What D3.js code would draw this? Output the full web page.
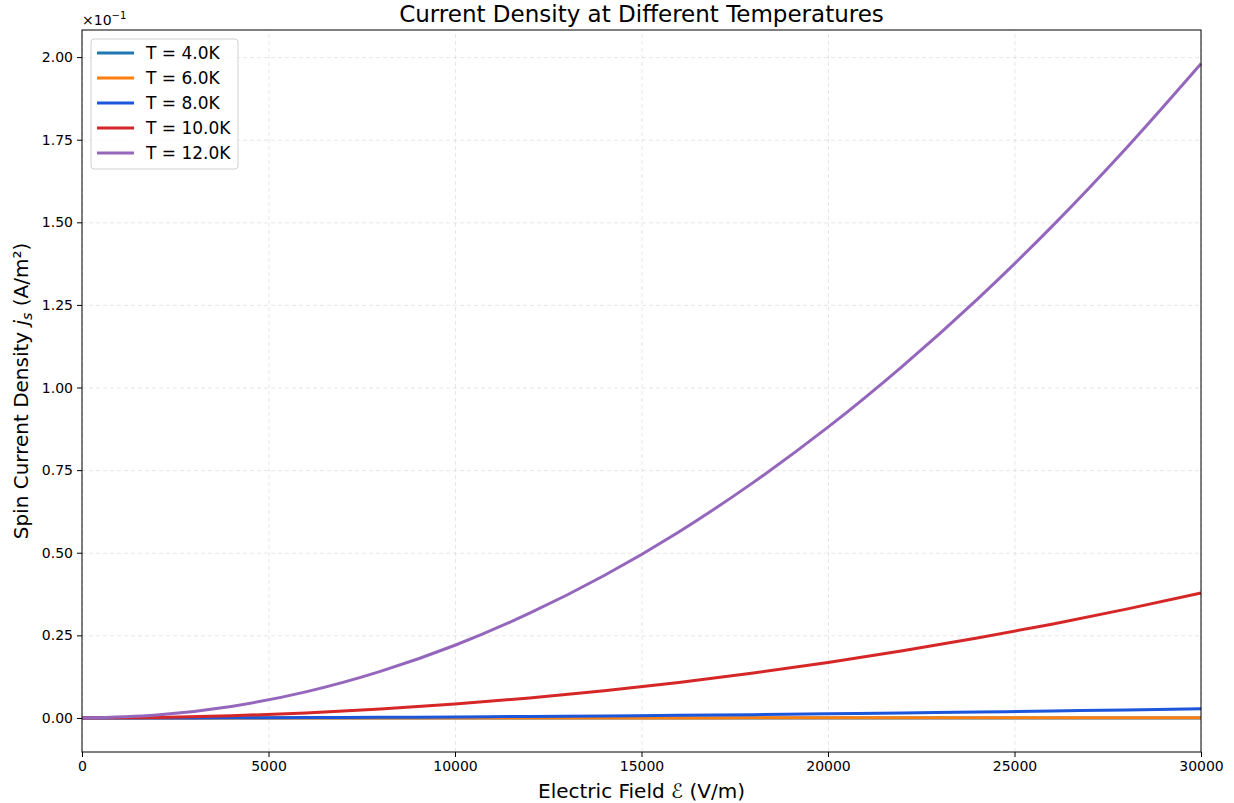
<!DOCTYPE html>
<html>
<head>
<meta charset="utf-8">
<script src="https://cdn.jsdelivr.net/npm/d3@7"></script>
<style>
  body { margin: 0; background: #fff; }
  text { font-family: "DejaVu Sans", sans-serif; fill: #000; }
  .grid line { stroke: #b0b0b0; stroke-opacity: 0.3; stroke-dasharray: 4,3; }
  .grid .domain { display: none; }
</style>
</head>
<body>
<div id="chart"></div>
<script>
// electric field samples (V/m)
var fields = [0, 2000, 4000, 6000, 8000, 10000, 12000, 14000, 16000, 18000, 20000, 22000, 24000, 26000, 28000, 30000];
// spin current density, in units of 1e-1 A/m^2
var j4K  = [0, 0, 0, 0, 0, 0, 0, 0, 0, 0, 0.0001, 0.0001, 0.0001, 0.0001, 0.0001, 0.0001];
var j6K  = [0, 0, 0, 0, 0.0001, 0.0001, 0.0001, 0.0002, 0.0002, 0.0003, 0.0003, 0.0004, 0.0004, 0.0005, 0.0006, 0.0007];
var j8K  = [0, 0.0001, 0.0005, 0.0011, 0.002, 0.0031, 0.0045, 0.0061, 0.008, 0.0101, 0.0124, 0.0151, 0.0179, 0.021, 0.0244, 0.028];
var j10K = [0, 0.0017, 0.0067, 0.0151, 0.0269, 0.042, 0.0605, 0.0823, 0.1075, 0.1361, 0.168, 0.2033, 0.2419, 0.2839, 0.3293, 0.378];
var j12K = [0, 0.009, 0.035, 0.079, 0.141, 0.220, 0.317, 0.431, 0.563, 0.713, 0.880, 1.065, 1.267, 1.487, 1.725, 1.980];
var temps = ["T = 4.0K", "T = 6.0K", "T = 8.0K", "T = 10.0K", "T = 12.0K"];
var colors = ["#1f77b4", "#ff7f0e", "#1b56db", "#d62728", "#9467bd"];
var yTicks = [0, 0.25, 0.5, 0.75, 1.0, 1.25, 1.5, 1.75, 2.0];
var xTicks = [0, 5000, 10000, 15000, 20000, 25000, 30000];

var series = [j4K, j6K, j8K, j10K, j12K].map(function (vals, i) {
    return { name: temps[i], color: colors[i], values: vals.map(function (v, k) { return { x: fields[k], y: v }; }) };
});

var W = 1234, H = 803;
var margin = { top: 30, right: 33, bottom: 51, left: 82 };
var width = W - margin.left - margin.right,
    height = H - margin.top - margin.bottom;

var svg = d3.select("#chart").append("svg")
    .attr("width", W).attr("height", H);

var g = svg.append("g")
    .attr("transform", "translate(" + margin.left + "," + margin.top + ")");

var xScale = d3.scaleLinear().domain([0, 30000]).range([0, width]);
var yScale = d3.scaleLinear().domain([-0.103, 2.082]).range([height, 0]);

// grid
g.append("g").attr("class", "grid")
    .call(d3.axisLeft(yScale).tickValues(yTicks).tickSize(-width).tickFormat(""));
g.append("g").attr("class", "grid")
    .attr("transform", "translate(0," + height + ")")
    .call(d3.axisBottom(xScale).tickValues(xTicks).tickSize(-height).tickFormat(""));

// lines
var line = d3.line()
    .x(function (d) { return xScale(d.x); })
    .y(function (d) { return yScale(d.y); })
    .curve(d3.curveMonotoneX);

g.selectAll(".series")
    .data(series)
    .enter().append("path")
    .attr("class", "series")
    .attr("fill", "none")
    .attr("stroke", function (d) { return d.color; })
    .attr("stroke-width", 3)
    .attr("d", function (d) { return line(d.values); });

// axes
var xAxis = g.append("g")
    .attr("transform", "translate(0," + height + ")")
    .call(d3.axisBottom(xScale).tickValues(xTicks).tickSize(5).tickPadding(4).tickFormat(d3.format("d")));
var yAxis = g.append("g")
    .call(d3.axisLeft(yScale).tickValues(yTicks).tickSize(5).tickPadding(4).tickFormat(d3.format(".2f")));
[xAxis, yAxis].forEach(function (a) {
    a.selectAll("text").style("font-size", "14px").style("font-family", "DejaVu Sans");
    a.selectAll("line").attr("stroke", "#000");
    a.select(".domain").remove();
});

// frame
g.append("rect")
    .attr("width", width).attr("height", height)
    .attr("fill", "none").attr("stroke", "#000").attr("stroke-width", 1);

// offset label
var off = svg.append("text")
    .attr("x", margin.left).attr("y", 25)
    .style("font-size", "14px");
off.append("tspan").text("×10");
off.append("tspan").attr("dy", -6).style("font-size", "10px").text("−1");

// title
svg.append("text")
    .attr("x", margin.left + width / 2).attr("y", 22)
    .attr("text-anchor", "middle")
    .style("font-size", "23px")
    .text("Current Density at Different Temperatures");

// axis labels
svg.append("text")
    .attr("x", margin.left + width / 2).attr("y", 798)
    .attr("text-anchor", "middle")
    .style("font-size", "20px")
    .text("Electric Field ℰ (V/m)");

var yl = svg.append("text")
    .attr("transform", "translate(28," + (margin.top + height / 2) + ") rotate(-90)")
    .attr("text-anchor", "middle")
    .style("font-size", "20px");
yl.append("tspan").text("Spin Current Density ");
yl.append("tspan").style("font-style", "italic").text("j");
yl.append("tspan").attr("dy", 4).style("font-size", "14px").style("font-style", "italic").text("s");
yl.append("tspan").attr("dy", -4).text(" (A/m²)");

// legend
var legend = g.append("g").attr("transform", "translate(9,9)");
legend.append("rect")
    .attr("width", 147).attr("height", 130).attr("rx", 3)
    .attr("fill", "#fff").attr("fill-opacity", 0.8)
    .attr("stroke", "#d0d0d0");
var items = legend.selectAll(".item")
    .data(series)
    .enter().append("g")
    .attr("transform", function (d, i) { return "translate(0," + (14 + i * 25) + ")"; });
items.append("line")
    .attr("x1", 6).attr("x2", 43)
    .attr("stroke", function (d) { return d.color; })
    .attr("stroke-width", 3);
items.append("text")
    .attr("x", 55).attr("y", 6)
    .style("font-size", "17px")
    .text(function (d) { return d.name; });
</script>
</body>
</html>
